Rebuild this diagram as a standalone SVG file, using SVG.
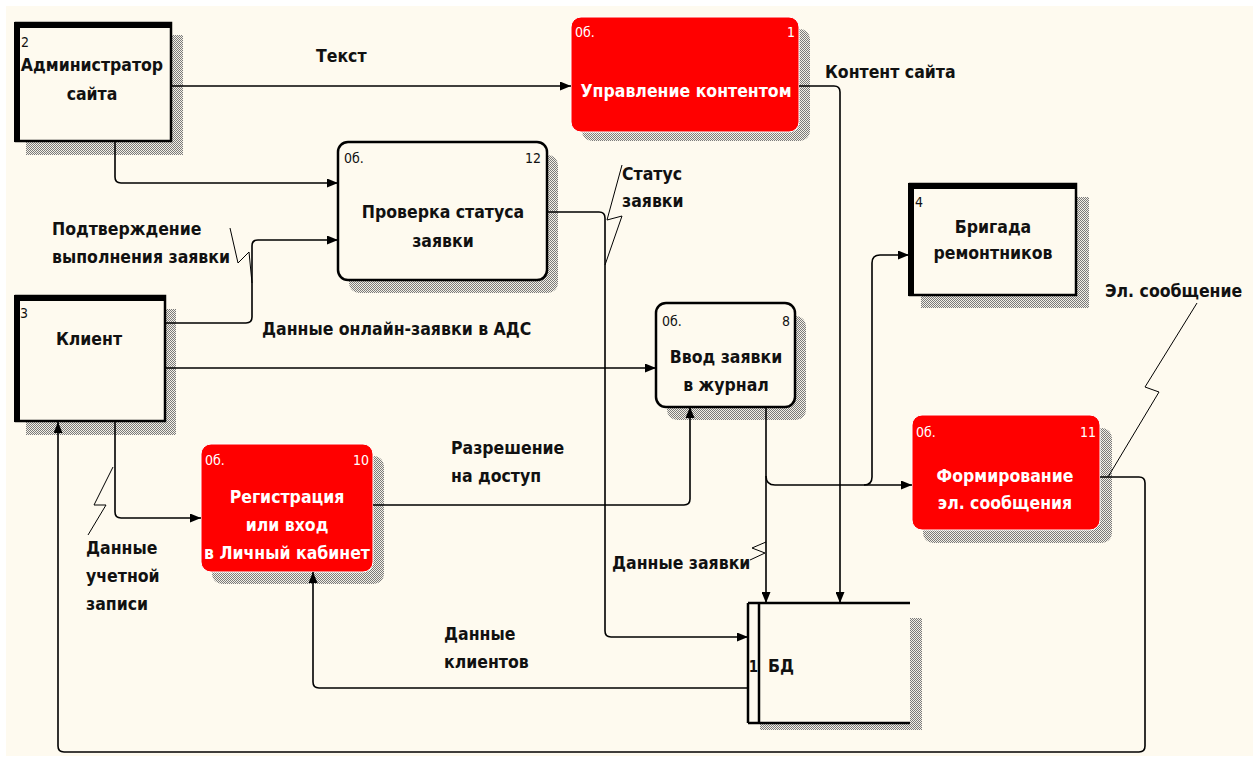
<svg xmlns="http://www.w3.org/2000/svg" width="1259" height="762" viewBox="0 0 1259 762">
  <defs>
    <pattern id="hatch" width="2" height="2" patternUnits="userSpaceOnUse">
      <rect width="2" height="2" fill="#f4f0e6"/>
      <rect width="1" height="1" fill="#7a7a7a"/>
      <rect x="1" y="1" width="1" height="1" fill="#7a7a7a"/>
    </pattern>
    <marker id="arr" markerWidth="11" markerHeight="9" refX="11" refY="4.5" orient="auto" markerUnits="userSpaceOnUse">
      <path d="M0,0 L11,4.5 L0,9 z" fill="#000"/>
    </marker>
    <style>
      text { font-family: "Liberation Sans Narrow", "DejaVu Sans Condensed", "Liberation Sans", sans-serif; }
      .lbl { font-size: 17.5px; font-weight: bold; fill: #111; }
      .ttl { font-size: 17.5px; font-weight: bold; fill: #111; text-anchor: middle; }
      .ttlw { font-size: 17.5px; font-weight: bold; fill: #fff; text-anchor: middle; }
      .num { font-size: 14px; fill: #111; }
      .numw { font-size: 14px; fill: #fff; }
      .end { text-anchor: end; }
      .shadow { fill: url(#hatch); }
      .proc { fill: #fefaef; stroke: #000; stroke-width: 2.5; }
      .procr { fill: #ff0000; stroke: #fff; stroke-width: 1; }
      .ext { fill: #fefaef; stroke: #000; stroke-width: 2.5; }
      .bar { fill: #000; }
      .flow { fill: none; stroke: #000; stroke-width: 1.6; }
      .squig { fill: none; stroke: #000; stroke-width: 1; }
    </style>
  </defs>

  <rect x="6" y="6" width="1247" height="750" fill="#fefaef"/>

  <!-- external entity 2 -->
  <g id="ext-admin">
    <rect class="shadow" x="26" y="35" width="157" height="120"/>
    <rect class="ext" x="16" y="23" width="155" height="118"/>
    <rect class="bar" x="14" y="22" width="158" height="6"/>
    <rect class="bar" x="14" y="22" width="6" height="120"/>
    <text class="num" x="21" y="47">2</text>
    <text class="ttl" x="92" y="71">Администратор</text>
    <text class="ttl" x="92" y="100">сайта</text>
  </g>

  <!-- external entity 3 -->
  <g id="ext-client">
    <rect class="shadow" x="26" y="309" width="150" height="126"/>
    <rect class="ext" x="16" y="296" width="149" height="125"/>
    <rect class="bar" x="14" y="295" width="152" height="6"/>
    <rect class="bar" x="14" y="295" width="6" height="127"/>
    <text class="num" x="20" y="318">3</text>
    <text class="ttl" x="89" y="345">Клиент</text>
  </g>

  <!-- external entity 4 -->
  <g id="ext-brigade">
    <rect class="shadow" x="921" y="197" width="168" height="111"/>
    <rect class="ext" x="910" y="184" width="166" height="111"/>
    <rect class="bar" x="908" y="183" width="169" height="6"/>
    <rect class="bar" x="908" y="183" width="6" height="113"/>
    <text class="num" x="915" y="207">4</text>
    <text class="ttl" x="993" y="233">Бригада</text>
    <text class="ttl" x="993" y="259">ремонтников</text>
  </g>

  <!-- process 1 -->
  <g id="proc-1">
    <rect class="shadow" x="582" y="29" width="228" height="112" rx="10"/>
    <rect class="procr" x="571" y="17" width="228" height="115" rx="10"/>
    <text class="numw" x="575" y="37">0б.</text>
    <text class="numw end" x="795" y="37">1</text>
    <text class="ttlw" x="686" y="97">Управление контентом</text>
  </g>

  <!-- process 12 -->
  <g id="proc-12">
    <rect class="shadow" x="349" y="155" width="209" height="138" rx="10"/>
    <rect class="proc" x="338" y="142" width="209" height="138" rx="10"/>
    <text class="num" x="344" y="163">0б.</text>
    <text class="num end" x="541" y="163">12</text>
    <text class="ttl" x="443" y="218">Проверка статуса</text>
    <text class="ttl" x="443" y="247">заявки</text>
  </g>

  <!-- process 8 -->
  <g id="proc-8">
    <rect class="shadow" x="667" y="316" width="139" height="104" rx="10"/>
    <rect class="proc" x="656" y="303" width="139" height="104" rx="10"/>
    <text class="num" x="662" y="326">0б.</text>
    <text class="num end" x="790" y="326">8</text>
    <text class="ttl" x="726" y="363">Ввод заявки</text>
    <text class="ttl" x="726" y="391">в журнал</text>
  </g>

  <!-- process 11 -->
  <g id="proc-11">
    <rect class="shadow" x="923" y="428" width="189" height="115" rx="10"/>
    <rect class="procr" x="912" y="415" width="188" height="115" rx="10"/>
    <text class="numw" x="916" y="437">0б.</text>
    <text class="numw end" x="1096" y="437">11</text>
    <text class="ttlw" x="1005" y="482">Формирование</text>
    <text class="ttlw" x="1005" y="509">эл. сообщения</text>
  </g>

  <!-- process 10 -->
  <g id="proc-10">
    <rect class="shadow" x="212" y="456" width="172" height="128" rx="10"/>
    <rect class="procr" x="201" y="444" width="172" height="128" rx="10"/>
    <text class="numw" x="205" y="465">0б.</text>
    <text class="numw end" x="369" y="465">10</text>
    <text class="ttlw" x="287" y="503">Регистрация</text>
    <text class="ttlw" x="287" y="531">или вход</text>
    <text class="ttlw" x="287" y="559">в Личный кабинет</text>
  </g>

  <!-- data store 1 -->
  <g id="store-db">
    <rect class="shadow" x="910" y="618" width="12" height="112"/>
    <rect class="shadow" x="760" y="723" width="162" height="7"/>
    <rect x="748" y="603" width="162" height="120" fill="#fefaef"/>
    <path d="M748,603 H910 M748,723 H910 M748,603 V723 M759,603 V723" fill="none" stroke="#000" stroke-width="2.5"/>
    <text class="lbl" x="753.5" y="672" text-anchor="middle" style="font-size:15px">1</text>
    <text class="lbl" x="768" y="672">БД</text>
  </g>

  <!-- data flows -->
  <g id="connectors">
    <path class="flow" d="M172,86 H571" marker-end="url(#arr)"/>
    <path class="flow" d="M115,142 V177 Q115,183 121,183 H338" marker-end="url(#arr)"/>
    <path class="flow" d="M166,323 H246 Q252,323 252,317 V246 Q252,240 258,240 H338" marker-end="url(#arr)"/>
    <path class="flow" d="M166,368 H656" marker-end="url(#arr)"/>
    <path class="flow" d="M115,422 V512 Q115,518 121,518 H201" marker-end="url(#arr)"/>
    <path class="flow" d="M373,505 H684 Q690,505 690,499 V407" marker-end="url(#arr)"/>
    <path class="flow" d="M547,212 H599 Q605,212 605,218 V631 Q605,637 611,637 H748" marker-end="url(#arr)"/>
    <path class="flow" d="M799,86 H834 Q840,86 840,92 V603" marker-end="url(#arr)"/>
    <path class="flow" d="M766,407 V603" marker-end="url(#arr)"/>
    <path class="flow" d="M766,476 Q766,485 775,485 H912" marker-end="url(#arr)"/>
    <path class="flow" d="M864,485 Q872,485 872,477 V263 Q872,255 880,255 H909" marker-end="url(#arr)"/>
    <path class="flow" d="M748,688 H319 Q313,688 313,682 V572" marker-end="url(#arr)"/>
    <path class="flow" d="M1100,477 H1139 Q1145,477 1145,483 V746 Q1145,752 1139,752 H64 Q58,752 58,746 V422" marker-end="url(#arr)"/>

    <!-- label leaders -->
    <path class="squig" d="M230,228 L238,263 L249,252 L252,283"/>
    <path class="squig" d="M113,467 L94,505 L106,505 L88,535"/>
    <path class="squig" d="M622,165 L607,220 L622,216 L605,265"/>
    <path class="squig" d="M766,542 L752,548 L765,553 L750,560"/>
    <path class="squig" d="M1197,303 L1145,387 L1159,392 L1108,477"/>
  </g>

  <!-- flow labels -->
  <g id="flow-labels">
    <text class="lbl" x="316" y="62">Текст</text>
    <text class="lbl" x="825" y="78">Контент сайта</text>
    <text class="lbl" x="622" y="180">Статус</text>
    <text class="lbl" x="622" y="207">заявки</text>
    <text class="lbl" x="52" y="235">Подтверждение</text>
    <text class="lbl" x="52" y="263">выполнения заявки</text>
    <text class="lbl" x="262" y="335">Данные онлайн-заявки в АДС</text>
    <text class="lbl" x="1105" y="297">Эл. сообщение</text>
    <text class="lbl" x="451" y="454">Разрешение</text>
    <text class="lbl" x="451" y="482">на доступ</text>
    <text class="lbl" x="86" y="554">Данные</text>
    <text class="lbl" x="86" y="582">учетной</text>
    <text class="lbl" x="86" y="610">записи</text>
    <text class="lbl" x="612" y="569">Данные заявки</text>
    <text class="lbl" x="444" y="640">Данные</text>
    <text class="lbl" x="444" y="668">клиентов</text>
  </g>
</svg>
